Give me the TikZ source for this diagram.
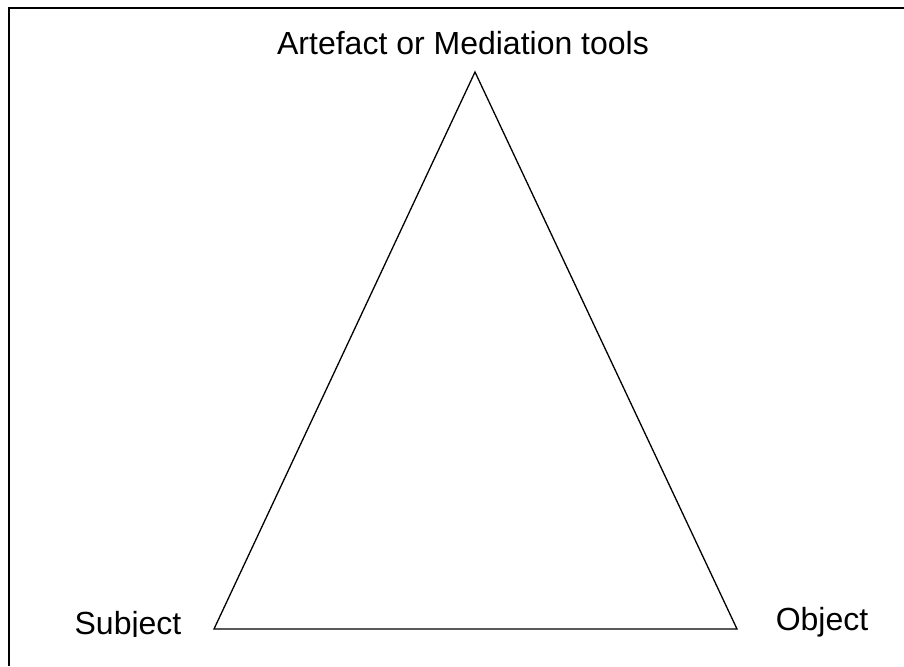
\documentclass[tikz,border=0pt]{standalone}
\usepackage{fontspec}
\setmainfont{Liberation Sans}
\begin{document}
\begin{tikzpicture}[x=1pt,y=-1pt,
  lbl/.style={inner sep=0pt,anchor=base,font=\fontsize{32}{37}\selectfont},
  edge/.style={line width=1.3pt,line join=miter},
  frame/.style={line width=2.2pt}]
\useasboundingbox (0,0) rectangle (904,666);
\fill[white] (0,0) rectangle (904,666);
\draw[frame] (9,666) -- (9,8) -- (904,8);
\coordinate (A) at (475,72);
\coordinate (S) at (214,629);
\coordinate (O) at (737,629);
\draw[edge] (A) -- (S) -- (O) -- cycle;
\node[lbl] (tA) at (463,55) {Artefact or Mediation tools};
\begin{scope}
\clip (0,0) rectangle (904,636);
\node[lbl] (tS) at (128,634) {Subject};
\end{scope}
\node[lbl] (tO) at (822,630) {Object};
\end{tikzpicture}
\end{document}
